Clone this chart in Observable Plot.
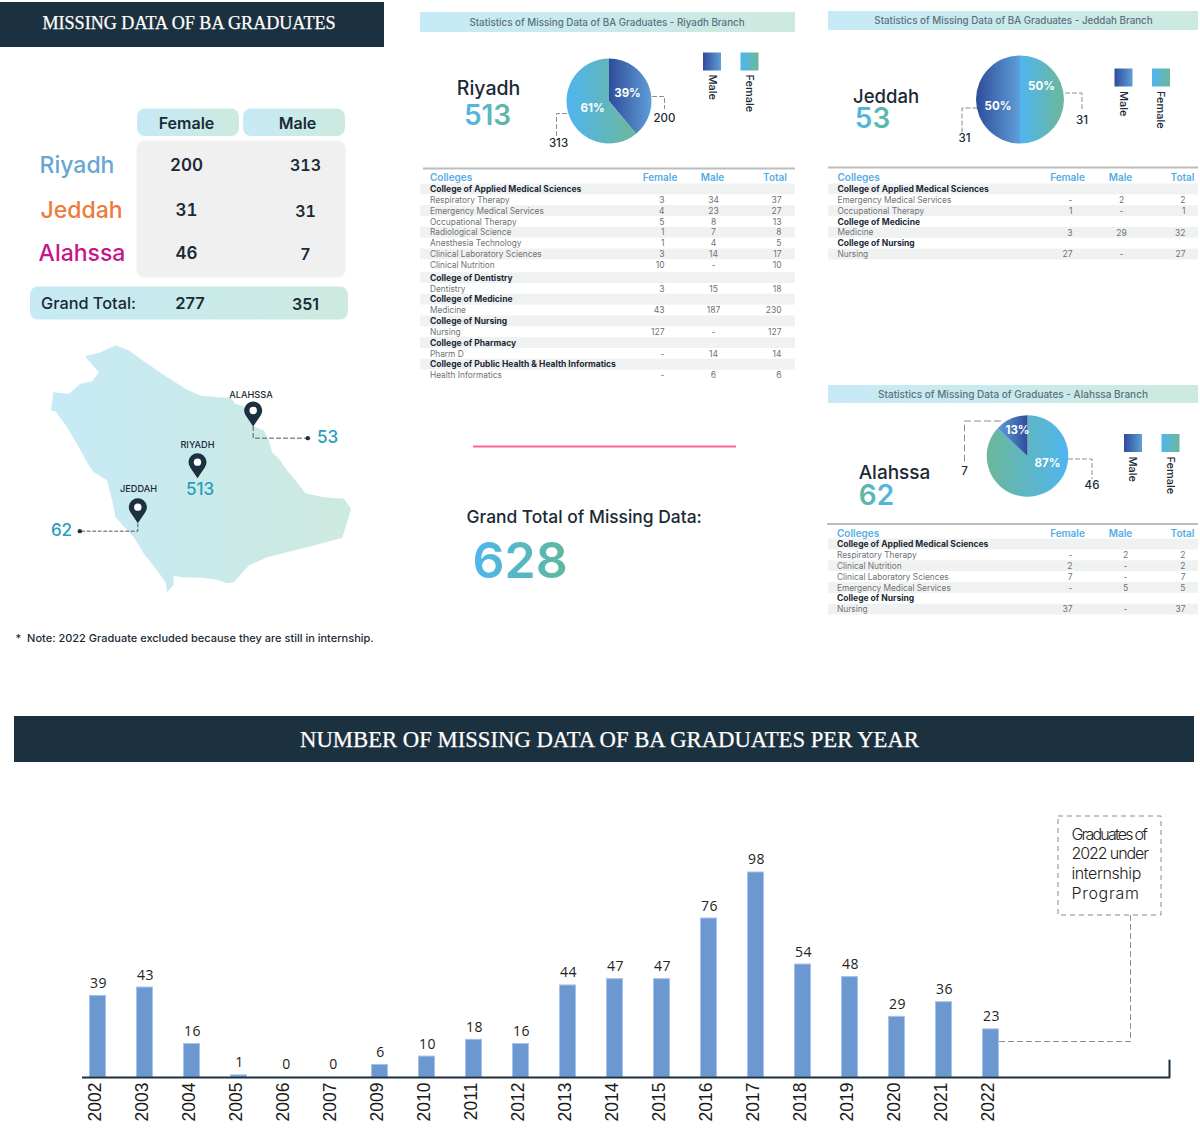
<!DOCTYPE html>
<html>
<head>
<meta charset="utf-8">
<script src="https://cdn.jsdelivr.net/npm/d3@7"></script>
<script src="https://cdn.jsdelivr.net/npm/@observablehq/plot@0.6"></script>
<style>
html,body{margin:0;padding:0;background:#fff;}
#page{position:relative;width:1200px;height:1132px;overflow:hidden;}
#page>svg{position:absolute;left:0;background:transparent;}
.t1{letter-spacing:-1.8px;}
.t2{letter-spacing:-1.1px;}
.t3{letter-spacing:-0.4px;}
.t4{letter-spacing:0.7px;}
.barnum{letter-spacing:0.5px;}
</style>
</head>
<body>
<div id="page"></div>
<script>
// ---------- data ----------
const cities = ["Riyadh","Jeddah","Alahssa"];
const femaleByCity = [200,31,46];
const maleByCity = [313,31,7];
const grandTotal = {female:277, male:351};
const cityTotals = [513,53,62];

const years = ["2002","2003","2004","2005","2006","2007","2009","2010","2011","2012","2013","2014","2015","2016","2017","2018","2019","2020","2021","2022"];
const missing = [39,43,16,1,0,0,6,10,18,16,44,47,47,76,98,54,48,29,36,23];

const riyadhColleges = ["College of Applied Medical Sciences","Respiratory Therapy","Emergency Medical Services","Occupational Therapy","Radiological Science","Anesthesia Technology","Clinical Laboratory Sciences","Clinical Nutrition","College of Dentistry","Dentistry","College of Medicine","Medicine","College of Nursing","Nursing","College of Pharmacy","Pharm D","College of Public Health & Health Informatics","Health Informatics"];
const riyadhFemale = ["",3,4,5,1,1,3,10,"",3,"",43,"",127,"","-","","-"];
const riyadhMale   = ["",34,23,8,7,4,14,"-","",15,"",187,"","-","",14,"",6];
const riyadhTotal  = ["",37,27,13,8,5,17,10,"",18,"",230,"",127,"",14,"",6];

const jeddahColleges = ["College of Applied Medical Sciences","Emergency Medical Services","Occupational Therapy","College of Medicine","Medicine","College of Nursing","Nursing"];
const jeddahFemale = ["","-",1,"",3,"",27];
const jeddahMale   = ["",2,"-","",29,"","-"];
const jeddahTotal  = ["",2,1,"",32,"",27];

const alahssaColleges = ["College of Applied Medical Sciences","Respiratory Therapy","Clinical Nutrition","Clinical Laboratory Sciences","Emergency Medical Services","College of Nursing","Nursing"];
const alahssaFemale = ["","-",2,7,"-","",37];
const alahssaMale   = ["",2,"-","-",5,"","-"];
const alahssaTotal  = ["",2,2,7,5,"",37];

const riyadhSlices = [{k:"m",v:200},{k:"f",v:313}];
const jeddahSlices = [{k:"f",v:31},{k:"m",v:31}];
const alahssaSlices = [{k:"f",v:46},{k:"m",v:7}];

// Saudi outline (3x crop units of the map region)
const saudiOutline = [[253,47],[300,35],[345,14],[385,30],[430,62],[500,110],[560,148],[600,165],[650,170],[690,172],[705,190],[735,200],[745,240],[760,258],[790,270],[805,300],[815,335],[835,355],[860,390],[885,420],[915,458],[970,470],[1030,475],[1052,505],[1040,545],[1025,592],[960,610],[880,630],[800,650],[745,675],[700,725],[680,728],[650,718],[600,712],[540,710],[520,705],[518,735],[500,755],[495,725],[470,690],[430,640],[400,590],[345,530],[335,480],[320,420],[280,395],[262,370],[235,320],[200,260],[165,212],[152,210],[158,155],[205,160],[240,130],[275,122],[295,95]];

// ---------- palette ----------
const DARK="#1c3140", INK="#1a2a36", CYAN="#2a9cbd", BLUEHEAD="#56ade4", GREY="#6f7274", SHADE="#f0f1f1", LEAD="#8a8a8a";
const SANS="Inter";

// ---------- helpers ----------
const label=(t,x,y,o={})=>Plot.text([t],{x:()=>x,y:()=>y,text:d=>d,fontFamily:SANS,fill:INK,...o});
const box=(x1,y1,x2,y2,o={})=>Plot.rect([0],{x1:()=>x1,y1:()=>y1,x2:()=>x2,y2:()=>y2,...o});
const path=(pts,o={})=>Plot.line(pts,{x:d=>d[0],y:d=>d[1],stroke:LEAD,strokeWidth:1,strokeDasharray:"4,3",...o});

const defs=()=>{
  const d=d3.create("svg:defs");
  const g=(id,c0,c1)=>{
    const lg=d.append("linearGradient").attr("id",id).attr("x1","0%").attr("x2","100%").attr("y1","0%").attr("y2","0%");
    lg.append("stop").attr("offset","0%").attr("stop-color",c0);
    lg.append("stop").attr("offset","100%").attr("stop-color",c1);
  };
  g("band","#c6eaf6","#cdeadf");
  g("male","#2f4c9b","#5e9fd7");
  g("maleR","#5e9fd7","#2f4c9b");
  g("female","#4fb5f0","#6cb79a");
  g("femaleR","#6cb79a","#4fb5f0");
  g("num","#4fb5ee","#5fb89c");
  g("numR","#5fb89c","#4fb5ee");
  return d.node();
};

// pie drawn through the page's x/y scales
const pie=(slices,cx,cy,r,start,fills)=>(_i,{x,y})=>{
  const arcs=d3.pie().sort(null).value(d=>d.v).startAngle(start).endAngle(start+2*Math.PI)(slices);
  const a=d3.arc().innerRadius(0).outerRadius(r);
  const g=d3.create("svg:g").attr("transform",`translate(${x(cx)},${y(cy)})`);
  g.selectAll("path").data(arcs).join("path").attr("d",a).attr("fill",d=>`url(#${fills[d.data.k]})`);
  return g.node();
};

function table(c){
  const n=c.names.length, ry=c.rowY;
  const ids=d3.range(n);
  const num=(arr,o)=>Plot.text(ids,{x:()=>o.x,y:i=>ry(i),text:i=>arr[i],fontFamily:SANS,fontSize:8.5,fill:GREY,textAnchor:o.anchor});
  return [
    Plot.ruleY([c.rule],{x1:()=>c.ruleX0,x2:()=>c.x1,stroke:"#bdbdbd",strokeWidth:2}),
    Plot.rect(ids.filter(i=>i%2===0),{x1:()=>c.x0,x2:()=>c.x1,y1:i=>ry(i)-5.4,y2:i=>ry(i)+5.4,fill:SHADE}),
    label("Colleges",c.textX,c.head,{textAnchor:"start",fontSize:10,fontWeight:600,fill:BLUEHEAD}),
    label("Female",c.fx,c.head,{fontSize:10,fontWeight:600,fill:BLUEHEAD}),
    label("Male",c.mx,c.head,{fontSize:10,fontWeight:600,fill:BLUEHEAD}),
    label("Total",c.tx,c.head,{fontSize:10,fontWeight:600,fill:BLUEHEAD}),
    Plot.text(ids.filter(i=>c.female[i]===""),{x:()=>c.textX,y:i=>ry(i),text:i=>c.names[i],fontFamily:SANS,fontSize:8.5,fontWeight:700,fill:INK,textAnchor:"start"}),
    Plot.text(ids.filter(i=>c.female[i]!==""),{x:()=>c.textX,y:i=>ry(i),text:i=>c.names[i],fontFamily:SANS,fontSize:8.3,fill:GREY,textAnchor:"start"}),
    num(c.female,{x:c.fv,anchor:"end"}),
    num(c.male,{x:c.mv,anchor:"middle"}),
    num(c.total,{x:c.tv,anchor:"end"})
  ];
}

function panelHead(city,total,cx,cy,cnx,cny,cityFs,grad="num"){
  return [
    label(city,cx,cy,{fontSize:cityFs,fontWeight:500}),
    label(String(total),cnx,cny,{fontSize:28,fontWeight:600,fill:`url(#${grad})`})
  ];
}
function legend(mx,fx,y,tx1,tx2,ty){
  return [
    box(mx,y,mx+18,y+18,{fill:"url(#male)"}),
    box(fx,y,fx+18,y+18,{fill:"url(#female)"}),
    label("Male",tx1,ty,{rotate:90,textAnchor:"start",fontSize:11,fontWeight:500}),
    label("Female",tx2,ty,{rotate:90,textAnchor:"start",fontSize:11,fontWeight:500})
  ];
}
const band=(x1,y1,x2,y2,t,tx,ty,fs=9.8)=>[
  box(x1,y1,x2,y2,{fill:"url(#band)"}),
  label(t,tx,ty,{fontSize:fs,fontWeight:500,fill:"#5c7080"})
];
const pinShape={draw(ctx,size){
  const r=Math.sqrt(size/Math.PI), d=1.78*r, t=Math.acos(r/d);
  ctx.moveTo(0,d);
  ctx.arc(0,0,r,Math.PI/2+t,Math.PI/2-t+2*Math.PI);
  ctx.closePath();
}};
const mapX=d=>d[0]/3, mapY=d=>d[1]/3+340;
const pct={fontSize:11.5,fontWeight:700,fill:"#fff"};

// ---------- layout plot ----------
const rows=[165,210.5,253.5];
const serif={fontFamily:"Liberation Serif",fill:"#fff",stroke:"#fff",strokeWidth:0.25};
const marks=[
  defs,
  // left header
  box(0,2,384,47,{fill:DARK}),
  label("MISSING DATA OF BA GRADUATES",188.5,23,{...serif,fontSize:18.1}),
  // summary table
  box(137,108.5,239,136,{fill:"url(#band)",rx:8}),
  box(243,108.5,345,136,{fill:"url(#band)",rx:8}),
  label("Female",186,123.5,{fontSize:16,fontWeight:600}),
  label("Male",297,123.5,{fontSize:16,fontWeight:600}),
  box(136.5,140.5,345.5,277.5,{fill:"#f0f0f0",rx:8}),
  label(cities[0],76.5,rows[0],{fontSize:23,fontWeight:500,fill:"#69a6cf"}),
  label(cities[1],81,rows[1]-0.5,{fontSize:23,fontWeight:500,fill:"#ee7a3b"}),
  label(cities[2],81.5,rows[2]-0.5,{fontSize:23,fontWeight:500,fill:"#c6158a"}),
  Plot.text(d3.range(3),{x:()=>186,y:i=>rows[i],text:i=>femaleByCity[i],fontFamily:SANS,fontSize:17,fontWeight:600,fill:INK}),
  Plot.text(d3.range(3),{x:()=>305,y:i=>rows[i]+0.5,text:i=>maleByCity[i],fontFamily:SANS,fontSize:16,fontWeight:600,fill:INK}),
  box(30,286.5,348,319.5,{fill:"url(#band)",rx:8}),
  label("Grand Total:",40.5,303,{textAnchor:"start",fontSize:16.3,fontWeight:500}),
  label(String(grandTotal.female),189.5,303,{fontSize:16.5,fontWeight:600}),
  label(String(grandTotal.male),305,304.5,{fontSize:16,fontWeight:600}),

  // map
  Plot.line(saudiOutline,{x:mapX,y:mapY,fill:"url(#band)",stroke:"none"}),
  path([[758,258],[758,293],[922,293]].map(d=>[mapX(d),mapY(d)]),{stroke:"#555",strokeDasharray:"4,3"}),
  path([[412,550],[412,572],[238,572]].map(d=>[mapX(d),mapY(d)]),{stroke:"#555",strokeDasharray:"3,2.5"}),
  Plot.dot([[758,210],[591,365],[412,500]],{x:mapX,y:mapY,r:9,symbol:pinShape,fill:DARK,stroke:"none"}),
  Plot.dot([[758,210],[591,365],[412,500]],{x:mapX,y:mapY,r:3.7,fill:"#fff",stroke:"none"}),
  Plot.dot([[922,293],[238,572]],{x:mapX,y:mapY,r:2.2,fill:DARK,stroke:"none"}),
  label("ALAHSSA",250.5,395,{fontSize:9.2,fontWeight:500}),
  label("RIYADH",197,445,{fontSize:9.2,fontWeight:500}),
  label("JEDDAH",138,489,{fontSize:9.2,fontWeight:500}),
  label(String(cityTotals[1]),327,437,{fontSize:17,fontWeight:500,fill:CYAN}),
  label(String(cityTotals[0]),199.5,489,{fontSize:17,fontWeight:500,fill:CYAN}),
  label(String(cityTotals[2]),61,530,{fontSize:17,fontWeight:500,fill:CYAN}),
  label("*  Note: 2022 Graduate excluded because they are still in internship.",15,638,{textAnchor:"start",fontSize:11,fontWeight:500}),

  // Riyadh panel
  ...band(420,12,795,32,"Statistics of Missing Data of BA Graduates - Riyadh Branch",606.5,22),
  ...panelHead(cities[0],cityTotals[0],488,88,487,116,19.5),
  pie(riyadhSlices,609,101,42.5,0,{m:"male",f:"female"}),
  label("39%",627,93,pct),
  label("61%",592,108,pct),
  path([[652,96],[664,96],[664,108]]),
  path([[556,135],[556,113],[567,113]]),
  label("200",664,118,{fontSize:11.5,fontWeight:500}),
  label("313",558,143,{fontSize:11.5,fontWeight:500}),
  ...legend(703,740.5,52.5,712,749,74),
  ...table({names:riyadhColleges,female:riyadhFemale,male:riyadhMale,total:riyadhTotal,
    x0:420,x1:795,ruleX0:423,rule:168,head:177.5,textX:429.5,fx:659.5,mx:712,tx:774.5,fv:664,mv:713,tv:781,
    rowY:i=>188.9+i*10.83+(i>=8?2:0)}),

  // centre
  Plot.ruleY([446],{x1:()=>473,x2:()=>736,stroke:"#f8649f",strokeWidth:2}),
  label("Grand Total of Missing Data:",466,517,{textAnchor:"start",fontSize:17.4,fontWeight:500}),
  label("628",472,561,{textAnchor:"start",fontSize:50,fontWeight:600,fill:"url(#num)"}),

  // Jeddah panel
  ...band(828,11,1198,30,"Statistics of Missing Data of BA Graduates - Jeddah Branch",1013,20.5),
  ...panelHead(cities[1],cityTotals[1],885.5,96.5,872,119,18.5),
  pie(jeddahSlices,1020,99.5,44,0,{m:"male",f:"female"}),
  label("50%",1041,86,pct),
  label("50%",997.5,106,pct),
  path([[1065,92.5],[1081.5,92.5],[1081.5,110.5]]),
  path([[976.5,107.5],[961.5,107.5],[961.5,131.5]]),
  label(String(maleByCity[1]),1081.5,120,{fontSize:11.5,fontWeight:500}),
  label(String(femaleByCity[1]),964,138,{fontSize:11.5,fontWeight:500}),
  ...legend(1114.5,1152,68.5,1123,1160,90.5),
  ...table({names:jeddahColleges,female:jeddahFemale,male:jeddahMale,total:jeddahTotal,
    x0:828,x1:1198,ruleX0:828,rule:167,head:177.5,textX:837,fx:1067,mx:1120,tx:1182,fv:1072,mv:1121,tv:1185,
    rowY:i=>188.9+i*10.85}),

  // Alahssa panel
  ...band(828,385,1198,403,"Statistics of Missing Data of Graduates - Alahssa Branch",1012.5,394,10),
  ...panelHead(cities[2],cityTotals[2],894,472.5,876,496,19,"numR"),
  pie(alahssaSlices,1027.5,456,40.8,0,{m:"maleR",f:"femaleR"}),
  label("13%",1017,429.5,pct),
  label("87%",1047,462.5,pct),
  path([[1000,420.5],[964,420.5],[964,463]],{strokeDasharray:"6,4"}),
  path([[1068,458.5],[1091.5,458.5],[1091.5,478]]),
  label(String(maleByCity[2]),964,470.5,{fontSize:11.5,fontWeight:500}),
  label(String(femaleByCity[2]),1091.5,485,{fontSize:11.5,fontWeight:500}),
  ...legend(1124,1161.5,434,1132.5,1170,456),
  ...table({names:alahssaColleges,female:alahssaFemale,male:alahssaMale,total:alahssaTotal,
    x0:828,x1:1198,ruleX0:827,rule:523.5,head:533,textX:836.5,fx:1067,mx:1120,tx:1182,fv:1072,mv:1125,tv:1185,
    rowY:i=>544+i*10.85}),

  // bottom header
  box(14,716,1194,762,{fill:DARK}),
  label("NUMBER OF MISSING DATA OF BA GRADUATES PER YEAR",609,739.5,{...serif,fontSize:22.7}),

  // annotation
  box(1058,816,1161,915,{fill:"none",stroke:"#8a8a8a",strokeDasharray:"5,4",strokeWidth:1}),
  path([[999,1041],[1130,1041],[1130,915]],{strokeDasharray:"5,4"}),
  label("Graduates of",1071,834,{textAnchor:"start",fontSize:16,fontWeight:300,fill:"#222",className:"t1"}),
  label("2022 under",1071,853.5,{textAnchor:"start",fontSize:16,fontWeight:300,fill:"#222",className:"t2"}),
  label("internship",1071,873.5,{textAnchor:"start",fontSize:16,fontWeight:300,fill:"#222",className:"t3"}),
  label("Program",1071,893,{textAnchor:"start",fontSize:16,fontWeight:300,fill:"#222",className:"t4"}),
  path([[1169,1060],[1169,1077]],{stroke:DARK,strokeWidth:2,strokeDasharray:"none"})
];

const canvas=Plot.plot({
  width:1200,height:1132,margin:0,
  style:{background:"transparent"},
  x:{domain:[0,1200],range:[0,1200],axis:null},
  y:{domain:[0,1132],range:[0,1132],axis:null},
  marks
});
canvas.style.top="0px";
document.getElementById("page").appendChild(canvas);

// ---------- bar chart ----------
const barData=years.map((y,i)=>({year:y,n:missing[i]}));
const bars=Plot.plot({
  width:1200,height:332,
  marginLeft:82,marginRight:31,marginTop:72,marginBottom:55,
  style:{background:"transparent"},
  x:{type:"band",domain:years,range:[74,1014],paddingInner:0.66,paddingOuter:0.33,round:false,axis:null},
  y:{domain:[0,98],axis:null},
  marks:[
    Plot.barY(barData.filter(d=>d.n>0),{x:"year",y:"n",fill:"#6b98d1",stroke:"#a5c2e8",strokeWidth:1}),
    Plot.ruleY([0],{stroke:DARK,strokeWidth:2}),
    Plot.axisX({anchor:"bottom",tickSize:0,tickPadding:5,tickRotate:-90,fontSize:17.5,fontFamily:"Liberation Sans",fill:"#1a1a1a",label:null,dx:-2.5,color:"#1a1a1a"}),
    Plot.text(barData,{x:"year",y:"n",text:d=>String(d.n),dy:-12.5,dx:0.5,fontFamily:"Open Sans",fontSize:14,fill:"#222",className:"barnum"})
  ]
});
bars.style.top="800px";
document.getElementById("page").appendChild(bars);
</script>
</body>
</html>
